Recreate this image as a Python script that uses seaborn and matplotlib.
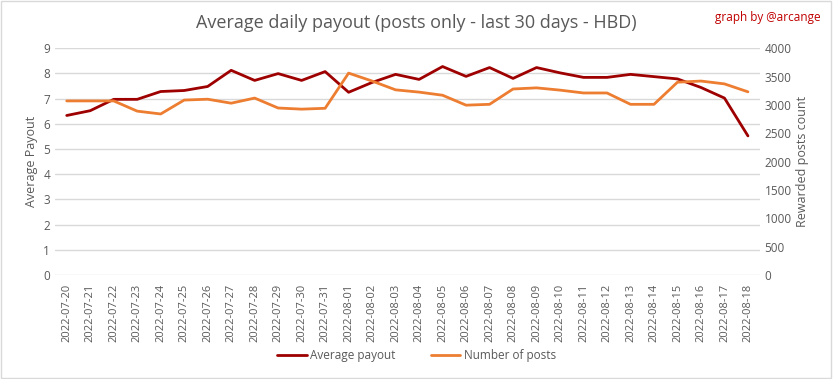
import pandas as pd
import matplotlib.pyplot as plt
import seaborn as sns

dates = ["2022-07-20", "2022-07-21", "2022-07-22", "2022-07-23", "2022-07-24",
         "2022-07-25", "2022-07-26", "2022-07-27", "2022-07-28", "2022-07-29",
         "2022-07-30", "2022-07-31", "2022-08-01", "2022-08-02", "2022-08-03",
         "2022-08-04", "2022-08-05", "2022-08-06", "2022-08-07", "2022-08-08",
         "2022-08-09", "2022-08-10", "2022-08-11", "2022-08-12", "2022-08-13",
         "2022-08-14", "2022-08-15", "2022-08-16", "2022-08-17", "2022-08-18"]

avg_payout = [6.33, 6.52, 6.97, 6.97, 7.28, 7.32, 7.48, 8.12, 7.72, 7.99,
              7.72, 8.07, 7.25, 7.64, 7.96, 7.76, 8.27, 7.88, 8.23, 7.80,
              8.23, 8.02, 7.84, 7.84, 7.96, 7.87, 7.78, 7.44, 7.02, 5.52]

num_posts = [3070, 3070, 3070, 2890, 2840, 3085, 3100, 3030, 3120, 2945,
             2925, 2940, 3560, 3420, 3265, 3225, 3170, 2995, 3010, 3280,
             3300, 3260, 3210, 3210, 3010, 3010, 3400, 3420, 3370, 3230]

df = pd.DataFrame({"date": dates, "payout": avg_payout, "posts": num_posts})

sns.set_style("white")
plt.rcParams['font.family'] = ['Open Sans', 'DejaVu Sans']

grey = "#595959"
red = "#9E0000"
orange = "#ED7D31"

fig = plt.figure(figsize=(8.33, 3.79), dpi=100)
ax = fig.add_axes([0.066, 0.274, 0.846, 0.599])
ax2 = ax.twinx()

sns.lineplot(data=df, x="date", y="payout", ax=ax, color=red, linewidth=2,
             sort=False, label="Average payout", legend=False)
sns.lineplot(data=df, x="date", y="posts", ax=ax2, color=orange, linewidth=2,
             sort=False, label="Number of posts", legend=False)

ax.set_xlim(-0.5, len(dates) - 0.5)
ax.set_ylim(0, 9)
ax.set_yticks(range(0, 10))
ax2.set_ylim(0, 4000)
ax2.set_yticks(range(0, 4001, 500))

ax.yaxis.grid(True, color="#D9D9D9", linewidth=1)
ax.set_axisbelow(True)
for a in (ax, ax2):
    for s in a.spines.values():
        s.set_visible(False)
    a.tick_params(length=0, labelsize=8.5, colors=grey)

ax.set_xticks(range(len(dates)))
ax.set_xticklabels(dates, rotation=90)
ax.tick_params(axis="x", pad=6, labelsize=8)

ax.set_xlabel("")
ax.set_ylabel("Average Payout", color=grey, fontsize=9)
ax2.set_ylabel("Rewarded posts count", color=grey, fontsize=9, rotation=90, labelpad=3)

fig.text(0.5, 0.94, "Average daily payout (posts only - last 30 days - HBD)",
         ha="center", va="center", fontsize=13, color=grey)
fig.text(0.985, 0.955, "graph by @arcange", ha="right", va="center",
         fontsize=8.5, color="#C00000")

h1, l1 = ax.get_legend_handles_labels()
h2, l2 = ax2.get_legend_handles_labels()
fig.legend(h1 + h2, l1 + l2, loc="center", bbox_to_anchor=(0.5, 0.062), ncol=2,
           frameon=False, fontsize=8.5, labelcolor=grey, handlelength=2.5,
           handletextpad=0.3, columnspacing=3)

fig.add_artist(plt.Rectangle((0.001, 0.002), 0.997, 0.995, transform=fig.transFigure,
                             fill=False, edgecolor="#D9D9D9", linewidth=1))

fig.savefig("out.png", dpi=100)
